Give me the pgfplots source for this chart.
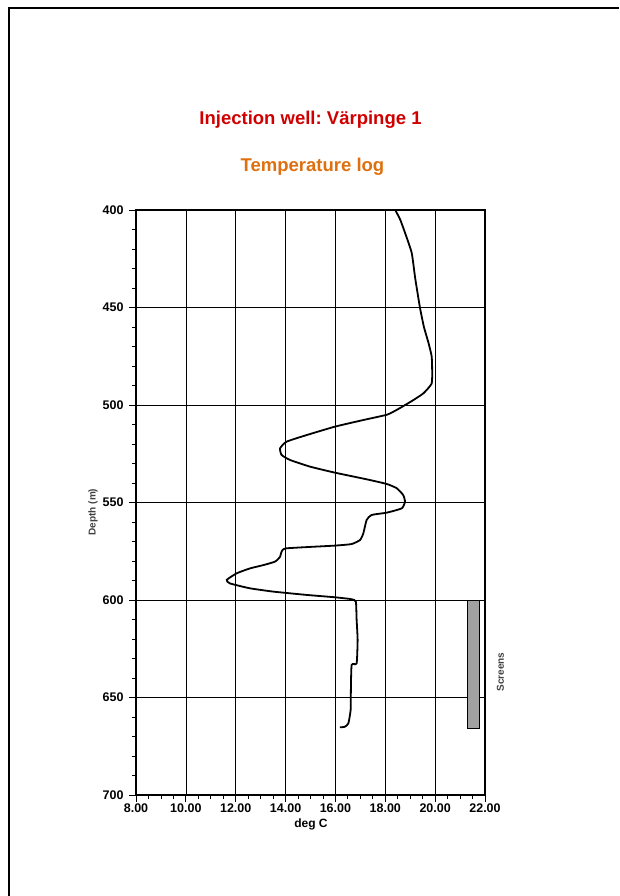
\documentclass[border=0pt]{standalone}
\usepackage{fontspec}
\setmainfont{Liberation Sans}
\usepackage{pgfplots}
\pgfplotsset{compat=1.18}
\definecolor{ttlred}{RGB}{208,0,0}
\definecolor{ttlorange}{RGB}{222,112,16}
\frenchspacing
\begin{document}
\begin{tikzpicture}[x=1pt,y=1pt]
\path[use as bounding box] (0,0) rectangle (619,896);
\draw[line width=2pt] (8.5,0) -- (8.5,887.7) -- (619,887.7);
\node[anchor=base, font=\bfseries\fontsize{18.5}{20}\selectfont, text=ttlred, inner sep=0pt] at (310.5,771.7) {Injection well: Värpinge 1};
\node[anchor=base, font=\bfseries\fontsize{18.5}{20}\selectfont, text=ttlorange, inner sep=0pt] at (312.5,724.3) {Temperature log};
\begin{axis}[
  at={(136pt,101pt)}, anchor=south west,
  scale only axis, width=349pt, height=585pt,
  xmin=8, xmax=22, ymin=400, ymax=700,
  y dir=reverse,
  xtick={8,10,...,22}, ytick={400,450,...,700},
  minor x tick num=3, minor y tick num=4,
  tick align=outside, xtick pos=bottom, ytick pos=left,
  major tick length=7pt, minor tick length=4pt,
  every tick/.style={black, line width=0.8pt},
  grid=major, major grid style={black, line width=0.7pt},
  axis line style={black, line width=1.3pt},
  /pgf/number format/assume math mode=true,
  tick label style={font=\bfseries\fontsize{12.5}{13}\selectfont},
  xticklabel style={yshift=1.5pt, /pgf/number format/.cd, fixed, fixed zerofill, precision=2},
  yticklabel style={xshift=-2pt, /pgf/number format/.cd, fixed, precision=0},
  clip=false,
]
\addplot[black, line width=1.8pt, smooth, tension=0.3] coordinates {
(18.40,400) (18.60,405) (18.80,412) (19.06,422) (19.20,435) (19.39,450)
(19.55,460) (19.73,468) (19.86,475) (19.88,482) (19.86,489) (19.53,494)
(19.06,498) (18.46,502.5) (18.06,505) (17.12,507.7) (15.98,511.1)
(14.85,515.4) (14.04,518.8) (13.78,522.2) (13.84,525.6) (14.18,528.2)
(14.98,531.6) (15.98,534.7) (17.25,538.1) (18.06,540.5) (18.46,542.7)
(18.72,546.2) (18.79,549.6) (18.66,553) (18.06,555.2) (17.45,556.4)
(17.25,559) (17.12,565.8) (16.99,569.2) (16.65,571.3) (15.98,572.1)
(14.04,573.5) (13.84,575.2) (13.78,577.8) (13.58,580.3) (13.11,582.1)
(12.57,583.8) (12.04,586.3) (11.64,589.7) (11.77,591.5) (12.57,594)
(13.51,595.7) (14.85,597.4) (15.98,598.6) (16.65,599.6) (16.82,600.9)
(16.85,610) (16.89,620.5) (16.85,632.5) (16.65,633.3) (16.62,646)
(16.61,656.4) (16.52,663.2) (16.38,665) (16.18,665.3)
};
\addplot[draw=black, fill=black!37, line width=0.8pt] coordinates {
(21.29,600) (21.77,600) (21.77,666) (21.29,666)
} -- cycle;
\node[rotate=90, font=\bfseries\fontsize{10}{10}\selectfont, text=black!75] at (axis cs:22.62,637) {Screens};
\end{axis}
\node[rotate=90, font=\bfseries\fontsize{10}{10}\selectfont, text=black!75] at (93,384) {Depth (m)};
\node[anchor=base, font=\bfseries\fontsize{12}{12}\selectfont] at (311,68) {deg C};
\end{tikzpicture}
\end{document}
